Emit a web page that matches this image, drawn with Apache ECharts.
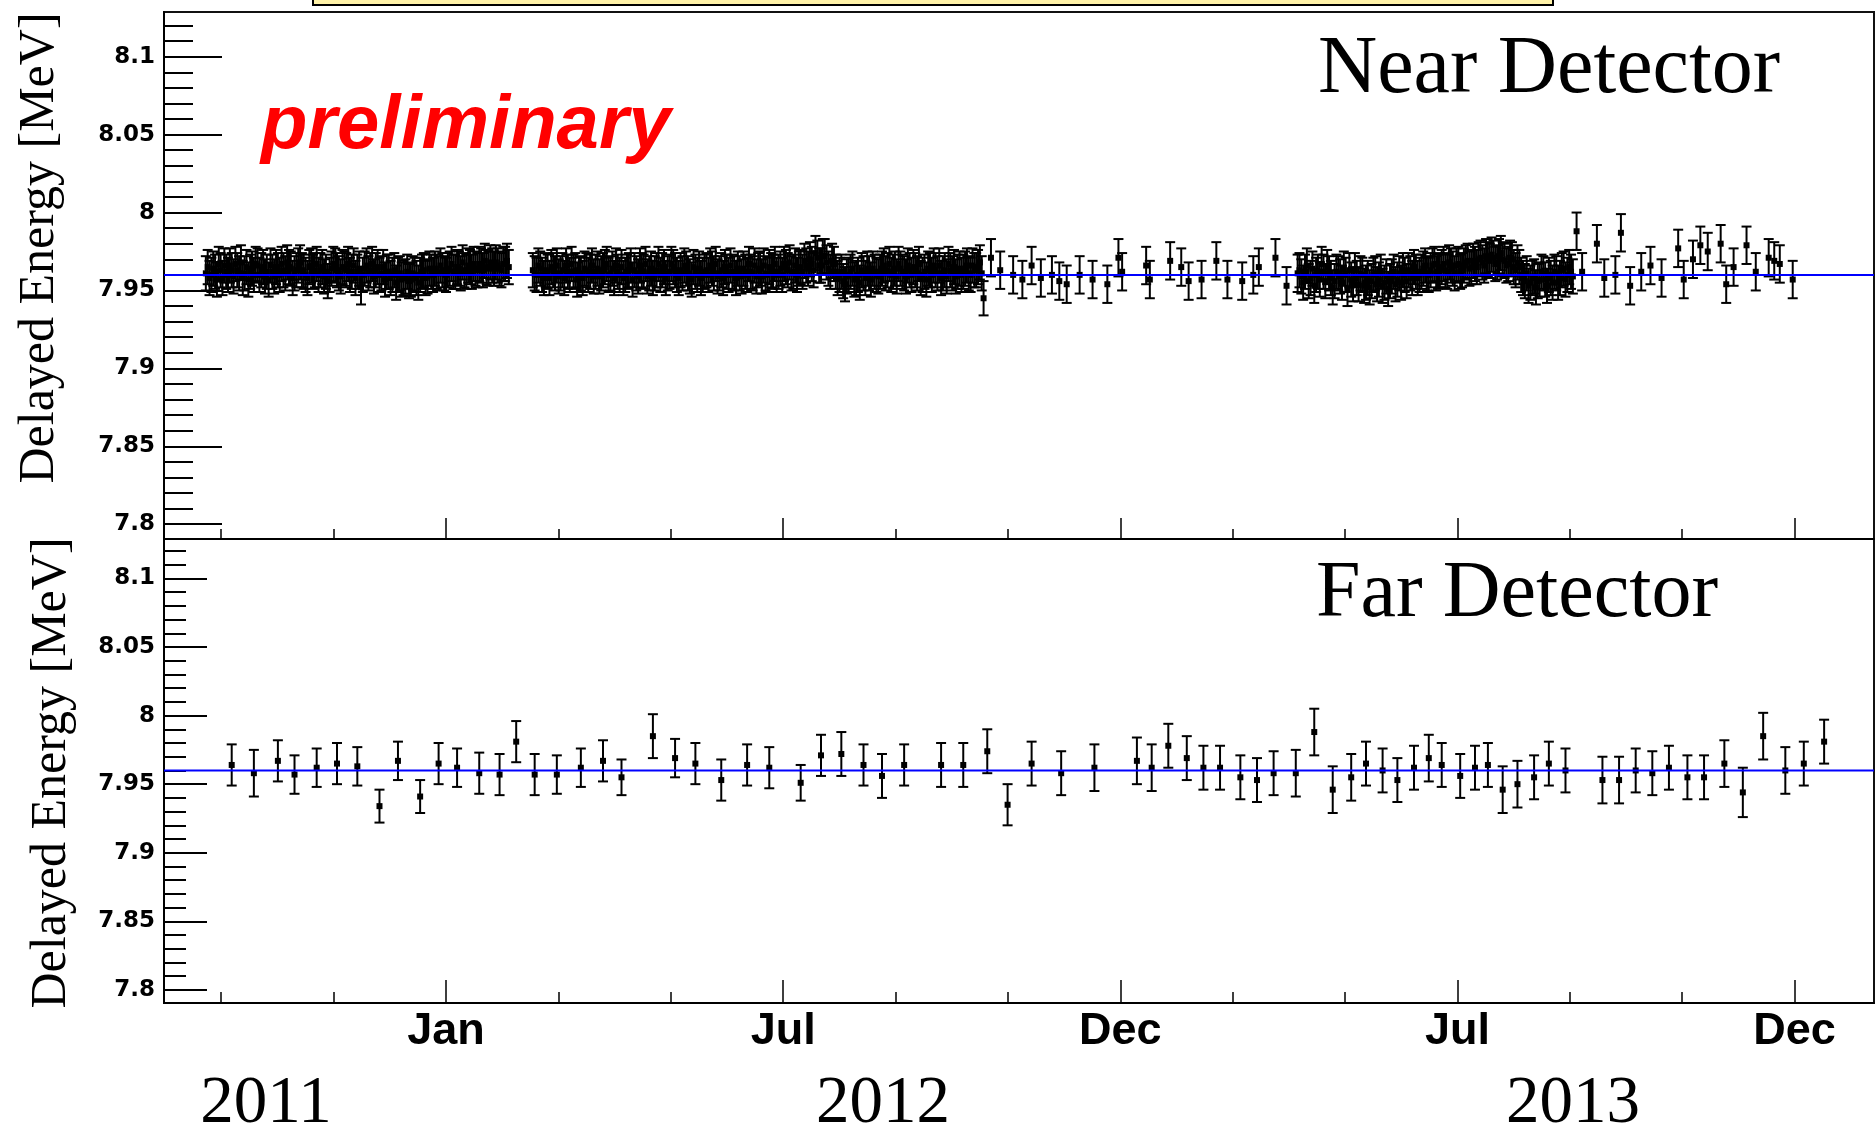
<!DOCTYPE html>
<html><head><meta charset="utf-8">
<script src="https://cdn.jsdelivr.net/npm/echarts@6/dist/echarts.min.js"></script>
<style>html,body{margin:0;padding:0;background:#fff}#c{width:1876px;height:1128px}</style>
</head><body><div id="c"></div><script>
// ---- DATA (x in days relative to 2012-01-01) ----
const nearSegA = [[-130,7.961],[-128,7.958],[-126,7.964],[-124,7.957],[-122,7.963],[-120,7.966],[-118,7.960],[-116,7.963],[-114,7.967],[-112,7.961],[-110,7.958],[-108,7.965],[-106,7.962],[-104,7.960],[-102,7.966],[-100,7.963],[-98,7.959],[-96,7.957],[-94,7.962],[-92,7.965],[-90,7.960],[-88,7.963],[-86,7.968],[-84,7.964],[-82,7.961],[-80,7.966],[-78,7.963],[-76,7.960],[-74,7.965],[-72,7.962],[-70,7.967],[-68,7.963],[-66,7.959],[-64,7.956],[-62,7.964],[-60,7.966],[-58,7.961],[-56,7.965],[-54,7.963],[-52,7.960],[-50,7.966],[-48,7.962],[-46,7.952],[-44,7.964],[-42,7.961],[-40,7.967],[-38,7.963],[-36,7.960],[-34,7.965],[-32,7.962],[-30,7.958],[-28,7.963],[-26,7.960],[-24,7.957],[-22,7.959],[-20,7.956],[-18,7.961],[-16,7.958],[-14,7.960],[-12,7.963],[-10,7.959],[-8,7.962],[-6,7.964],[-4,7.961],[-2,7.963],[0,7.960],[2,7.964],[4,7.962],[6,7.965],[8,7.961],[10,7.963],[12,7.966],[14,7.962],[16,7.964],[18,7.967],[20,7.963],[22,7.965],[24,7.968],[26,7.964],[28,7.966],[30,7.963],[32,7.967],[34,7.965]];
const nearSegA2 = [[-129,7.965],[-127,7.960],[-125,7.962],[-123,7.967],[-121,7.958],[-119,7.962],[-117,7.966],[-115,7.959],[-113,7.963],[-111,7.968],[-109,7.961],[-107,7.957],[-105,7.964],[-103,7.967],[-101,7.960],[-99,7.965],[-97,7.962],[-95,7.966],[-93,7.959],[-91,7.963],[-89,7.967],[-87,7.961],[-85,7.965],[-83,7.958],[-81,7.963],[-79,7.968],[-77,7.962],[-75,7.958],[-73,7.966],[-71,7.963],[-69,7.960],[-67,7.965],[-65,7.962],[-63,7.960],[-61,7.967],[-59,7.963],[-57,7.959],[-55,7.964],[-53,7.967],[-51,7.962],[-49,7.958],[-47,7.964],[-45,7.960],[-43,7.966],[-41,7.963],[-39,7.959],[-37,7.965],[-35,7.961],[-33,7.957],[-31,7.962],[-29,7.960],[-27,7.955],[-25,7.961],[-23,7.958],[-21,7.962],[-19,7.957],[-17,7.960],[-15,7.955],[-13,7.962],[-11,7.958],[-9,7.964],[-7,7.960],[-5,7.962],[-3,7.966],[-1,7.961],[1,7.963],[3,7.967],[5,7.962],[7,7.964],[9,7.968],[11,7.962],[13,7.965],[15,7.967],[17,7.963],[19,7.966],[21,7.969],[23,7.964],[25,7.966],[27,7.968],[29,7.964],[31,7.967],[33,7.969]];
const nearSegB = [[47,7.963],[49,7.960],[51,7.964],[53,7.958],[55,7.962],[57,7.965],[59,7.961],[61,7.959],[63,7.963],[65,7.966],[67,7.960],[69,7.962],[71,7.957],[73,7.961],[75,7.964],[77,7.960],[79,7.966],[81,7.962],[83,7.959],[85,7.963],[87,7.967],[89,7.961],[91,7.958],[93,7.962],[95,7.965],[97,7.960],[99,7.963],[101,7.957],[103,7.961],[105,7.966],[107,7.962],[109,7.959],[111,7.964],[113,7.961],[115,7.967],[117,7.963],[119,7.958],[121,7.962],[123,7.965],[125,7.960],[127,7.963],[129,7.966],[131,7.961],[133,7.957],[135,7.962],[137,7.964],[139,7.960],[141,7.963],[143,7.966],[145,7.961],[147,7.959],[149,7.963],[151,7.965],[153,7.960],[155,7.962],[157,7.958],[159,7.961],[161,7.964],[163,7.960],[165,7.962],[167,7.966],[169,7.963],[171,7.959],[173,7.961],[175,7.965],[177,7.962],[179,7.960],[181,7.964],[183,7.967],[185,7.963],[187,7.961],[189,7.966],[191,7.964],[193,7.962],[195,7.966],[197,7.970],[199,7.963],[201,7.971],[203,7.966],[205,7.972],[207,7.964],[209,7.969],[211,7.962],[213,7.960],[215,7.956],[217,7.959],[219,7.962],[221,7.957],[223,7.960],[225,7.963],[227,7.958],[229,7.961],[231,7.964],[233,7.960],[235,7.962],[237,7.966],[239,7.963],[241,7.960],[243,7.964],[245,7.967],[247,7.962],[249,7.959],[251,7.963],[253,7.965],[255,7.961],[257,7.958],[259,7.962],[261,7.964],[263,7.960],[265,7.963],[267,7.966],[269,7.961],[271,7.959],[273,7.963],[275,7.965],[277,7.962],[279,7.960],[281,7.964],[283,7.961],[285,7.966],[287,7.963],[289,7.968],[291,7.945]];
const nearSegB2 = [[48,7.961],[50,7.966],[52,7.960],[54,7.963],[56,7.958],[58,7.963],[60,7.966],[62,7.961],[64,7.958],[66,7.962],[68,7.967],[70,7.963],[72,7.960],[74,7.958],[76,7.963],[78,7.962],[80,7.959],[82,7.964],[84,7.961],[86,7.965],[88,7.960],[90,7.964],[92,7.966],[94,7.960],[96,7.958],[98,7.962],[100,7.966],[102,7.963],[104,7.959],[106,7.963],[108,7.967],[110,7.961],[112,7.958],[114,7.963],[116,7.960],[118,7.965],[120,7.961],[122,7.967],[124,7.963],[126,7.958],[128,7.961],[130,7.964],[132,7.959],[134,7.965],[136,7.960],[138,7.958],[140,7.962],[142,7.960],[144,7.964],[146,7.967],[148,7.961],[150,7.958],[152,7.962],[154,7.966],[156,7.961],[158,7.964],[160,7.959],[162,7.962],[164,7.967],[166,7.961],[168,7.959],[170,7.964],[172,7.966],[174,7.960],[176,7.963],[178,7.967],[180,7.962],[182,7.960],[184,7.965],[186,7.968],[188,7.962],[190,7.960],[192,7.965],[194,7.969],[196,7.964],[198,7.967],[200,7.974],[202,7.966],[204,7.972],[206,7.968],[208,7.962],[210,7.967],[212,7.958],[214,7.962],[216,7.954],[218,7.960],[220,7.964],[222,7.958],[224,7.955],[226,7.961],[228,7.964],[230,7.957],[232,7.962],[234,7.959],[236,7.964],[238,7.961],[240,7.967],[242,7.962],[244,7.959],[246,7.964],[248,7.961],[250,7.966],[252,7.960],[254,7.963],[256,7.967],[258,7.960],[260,7.957],[262,7.963],[264,7.966],[266,7.961],[268,7.958],[270,7.963],[272,7.967],[274,7.961],[276,7.959],[278,7.964],[280,7.962],[282,7.966],[284,7.960],[286,7.963],[288,7.965],[290,7.961]];
const nearSegC = [[295,7.971],[300,7.963],[307,7.960],[312,7.957],[317,7.966],[322,7.958],[328,7.960],[332,7.956],[336,7.954],[343,7.960],[350,7.957],[358,7.954],[364,7.971],[366,7.962],[379,7.966],[381,7.957],[392,7.969],[398,7.965],[402,7.956],[409,7.957],[417,7.969],[423,7.957],[431,7.956],[437,7.960],[440,7.965],[449,7.971],[455,7.953],[461,7.961]];
const nearSegD = [[462,7.963],[464,7.955],[466,7.966],[468,7.958],[470,7.953],[472,7.962],[474,7.967],[476,7.956],[478,7.961],[480,7.952],[482,7.962],[484,7.959],[486,7.964],[488,7.951],[490,7.957],[492,7.963],[494,7.954],[496,7.960],[498,7.955],[500,7.952],[502,7.960],[504,7.954],[506,7.962],[508,7.955],[510,7.951],[512,7.959],[514,7.954],[516,7.961],[518,7.963],[520,7.956],[522,7.961],[524,7.965],[526,7.958],[528,7.962],[530,7.966],[532,7.960],[534,7.966],[536,7.961],[538,7.963],[540,7.967],[542,7.962],[544,7.966],[546,7.961],[548,7.967],[550,7.963],[552,7.968],[554,7.964],[556,7.969],[558,7.965],[560,7.971],[562,7.966],[564,7.970],[566,7.973],[568,7.967],[570,7.972],[572,7.970],[574,7.966],[576,7.971],[578,7.965],[580,7.968],[582,7.960],[584,7.956],[586,7.953],[588,7.958],[590,7.952],[592,7.957],[594,7.961],[596,7.953],[598,7.958],[600,7.962],[602,7.955],[604,7.963],[606,7.957],[608,7.965],[610,7.959]];
const nearSegD2 = [[463,7.959],[465,7.962],[467,7.956],[469,7.964],[471,7.960],[473,7.957],[475,7.962],[477,7.965],[479,7.958],[481,7.956],[483,7.961],[485,7.955],[487,7.960],[489,7.963],[491,7.954],[493,7.958],[495,7.961],[497,7.953],[499,7.958],[501,7.956],[503,7.961],[505,7.957],[507,7.953],[509,7.959],[511,7.956],[513,7.962],[515,7.957],[517,7.955],[519,7.960],[521,7.963],[523,7.958],[525,7.962],[527,7.960],[529,7.964],[531,7.961],[533,7.963],[535,7.967],[537,7.962],[539,7.965],[541,7.963],[543,7.968],[545,7.964],[547,7.966],[549,7.962],[551,7.966],[553,7.969],[555,7.965],[557,7.967],[559,7.970],[561,7.968],[563,7.972],[565,7.969],[567,7.971],[569,7.968],[571,7.974],[573,7.969],[575,7.967],[577,7.970],[579,7.963],[581,7.965],[583,7.958],[585,7.961],[587,7.955],[589,7.959],[591,7.956],[593,7.962],[595,7.957],[597,7.960],[599,7.955],[601,7.961],[603,7.958],[605,7.964],[607,7.960],[609,7.962]];
const nearSegE = [[612,7.988],[615,7.962],[623,7.980],[627,7.958],[633,7.960],[636,7.987],[641,7.953],[647,7.962],[652,7.966],[658,7.958],[667,7.977],[670,7.957],[675,7.970],[679,7.979],[683,7.975],[690,7.980],[693,7.954],[697,7.965],[704,7.979],[709,7.962],[716,7.971],[719,7.969],[722,7.967],[729,7.957]];
const nearErrDense = 0.011;
const nearErrSparse = 0.012;

const farDays = [-116,-104,-91,-82,-70,-59,-48,-36,-26,-14,-4,6,18,29,38,48,60,73,85,95,112,124,135,149,163,175,192,203,214,226,236,248,268,280,293,304,317,333,351,374,382,391,401,410,419,430,439,448,460,470,480,490,498,507,515,524,532,539,549,557,564,572,580,589,597,606,626,635,644,653,662,672,681,692,702,713,725,735,746];
const farValues = [7.964,7.958,7.967,7.957,7.962,7.965,7.963,7.934,7.967,7.941,7.965,7.962,7.958,7.957,7.981,7.957,7.957,7.962,7.967,7.955,7.985,7.969,7.965,7.953,7.964,7.962,7.951,7.971,7.972,7.964,7.956,7.964,7.964,7.964,7.974,7.935,7.965,7.958,7.962,7.967,7.962,7.978,7.969,7.962,7.962,7.955,7.953,7.958,7.958,7.988,7.946,7.955,7.965,7.960,7.953,7.962,7.969,7.964,7.956,7.962,7.964,7.946,7.950,7.955,7.965,7.960,7.953,7.953,7.960,7.958,7.962,7.955,7.955,7.965,7.944,7.985,7.960,7.965,7.981];
const farErrors = [0.015,0.017,0.015,0.014,0.014,0.015,0.014,0.012,0.014,0.012,0.015,0.014,0.015,0.015,0.015,0.015,0.014,0.014,0.015,0.013,0.016,0.014,0.015,0.015,0.015,0.015,0.013,0.015,0.016,0.015,0.016,0.015,0.016,0.016,0.016,0.015,0.016,0.016,0.017,0.017,0.017,0.016,0.016,0.016,0.016,0.016,0.016,0.016,0.017,0.017,0.017,0.017,0.016,0.016,0.016,0.016,0.017,0.016,0.016,0.016,0.016,0.017,0.017,0.016,0.016,0.016,0.017,0.017,0.016,0.016,0.016,0.016,0.016,0.017,0.018,0.017,0.017,0.016,0.016];

const nearFit = 7.96;
const farFit = 7.96;

const xMajorTickDays = [0, 182.5, 365, 547.5, 730];
const xTickLabels = ['Jan', 'Jul', 'Dec', 'Jul', 'Dec'];
const xMinorTickDays = [-121.67, -60.83, 0, 60.83, 121.67, 182.5, 243.33, 304.17, 365, 425.83, 486.67, 547.5, 608.33, 669.17, 730];
const yMajorTicks = [7.8, 7.85, 7.9, 7.95, 8.0, 8.05, 8.1];
const yTickLabels = ['7.8', '7.85', '7.9', '7.95', '8', '8.05', '8.1'];
const yMinorTicks = [7.80,7.81,7.82,7.83,7.84,7.85,7.86,7.87,7.88,7.89,7.90,7.91,7.92,7.93,7.94,7.95,7.96,7.97,7.98,7.99,8.00,8.01,8.02,8.03,8.04,8.05,8.06,8.07,8.08,8.09,8.10,8.11,8.12];
const yearLabels = ['2011', '2012', '2013'];
const panelTitles = ['Near Detector', 'Far Detector'];
const yTitle = 'Delayed Energy [MeV]';
const watermark = 'preliminary';

// ---- helpers ----
const T0 = Date.UTC(2012, 0, 1);
const DAY = 86400000;
const ms = d => T0 + d * DAY;
const X_MIN = ms(-152.65), X_MAX = ms(773);
const Y_MIN = 7.7905, Y_MAX = 8.1287;

function buildNear() {
  const out = [];
  [[nearSegA, nearErrDense], [nearSegA2, nearErrDense], [nearSegB, nearErrDense], [nearSegB2, nearErrDense],
   [nearSegC, nearErrSparse], [nearSegD, nearErrDense], [nearSegD2, nearErrDense], [nearSegE, nearErrSparse]]
    .forEach(([seg, e]) => seg.forEach(p => out.push([ms(p[0]), p[1], e])));
  return out;
}
const nearData = buildNear();
const farData = farDays.map((d, i) => [ms(d), farValues[i], farErrors[i]]);

function renderErr(params, api) {
  const x = api.value(0), y = api.value(1), e = api.value(2);
  const p = api.coord([x, y]);
  const hi = api.coord([x, y + e]);
  const lo = api.coord([x, y - e]);
  const cw = 5;
  const st = { stroke: '#000', lineWidth: 2 };
  return { type: 'group', children: [
    { type: 'line', shape: { x1: p[0], y1: hi[1], x2: p[0], y2: lo[1] }, style: st },
    { type: 'line', shape: { x1: p[0] - cw, y1: hi[1], x2: p[0] + cw, y2: hi[1] }, style: st },
    { type: 'line', shape: { x1: p[0] - cw, y1: lo[1], x2: p[0] + cw, y2: lo[1] }, style: st },
    { type: 'rect', shape: { x: p[0] - 3, y: p[1] - 3, width: 6, height: 6 }, style: { fill: '#000' } }
  ]};
}

function xAxisPair(gridIndex, majorLen, minorLen, withLabels) {
  const base = { type: 'value', gridIndex, min: X_MIN, max: X_MAX, position: 'bottom', offset: 0, splitLine: { show: false } };
  return [
    Object.assign({}, base, {
      axisLine: { show: true, lineStyle: { color: '#000', width: 2 } },
      axisTick: { show: true, inside: true, length: majorLen, customValues: xMajorTickDays.map(ms), lineStyle: { color: '#000', width: 1.5 } },
      axisLabel: withLabels ? {
        show: true, customValues: xMajorTickDays.map(ms), margin: 6,
        fontFamily: 'Liberation Sans', fontWeight: 'bold', fontSize: 45, color: '#000',
        formatter: v => { const i = xMajorTickDays.findIndex(d => Math.abs(ms(d) - v) < 1000); return i >= 0 ? xTickLabels[i] : ''; }
      } : { show: false }
    }),
    Object.assign({}, base, {
      axisLine: { show: false },
      axisTick: { show: true, inside: true, length: minorLen, customValues: xMinorTickDays.map(ms), lineStyle: { color: '#000', width: 1.5 } },
      axisLabel: { show: false }
    })
  ];
}
function yAxisPair(gridIndex, majorLen, minorLen) {
  const base = { type: 'value', gridIndex, min: Y_MIN, max: Y_MAX, position: 'left', offset: 0, splitLine: { show: false } };
  return [
    Object.assign({}, base, {
      axisLine: { show: true, lineStyle: { color: '#000', width: 2 } },
      axisTick: { show: true, inside: true, length: majorLen, customValues: yMajorTicks, lineStyle: { color: '#000', width: 2 } },
      axisLabel: {
        show: true, customValues: yMajorTicks, margin: 9,
        fontFamily: 'DejaVu Sans', fontWeight: 'bold', fontSize: 23, color: '#000',
        formatter: v => { const i = yMajorTicks.findIndex(t => Math.abs(t - v) < 1e-6); return i >= 0 ? yTickLabels[i] : ''; }
      }
    }),
    Object.assign({}, base, {
      axisLine: { show: false },
      axisTick: { show: true, inside: true, length: minorLen, customValues: yMinorTicks, lineStyle: { color: '#000', width: 2 } },
      axisLabel: { show: false }
    })
  ];
}

const chart = echarts.init(document.getElementById('c'), null, { renderer: 'canvas' });
chart.setOption({
  animation: false,
  backgroundColor: '#fff',
  grid: [
    { left: 164, top: 12, width: 1710, height: 527, show: true, borderColor: '#111', borderWidth: 2, backgroundColor: 'transparent' },
    { left: 164, top: 539, width: 1710, height: 464, show: true, borderColor: '#111', borderWidth: 2, backgroundColor: 'transparent' }
  ],
  xAxis: [].concat(xAxisPair(0, 21, 10, false), xAxisPair(1, 23, 11, true)),
  yAxis: [].concat(yAxisPair(0, 58, 29), yAxisPair(1, 43, 22)),
  series: [
    { type: 'custom', name: 'near', xAxisIndex: 0, yAxisIndex: 0, renderItem: renderErr, data: nearData, z: 2, encode: { x: 0, y: 1 } },
    { type: 'custom', name: 'far', xAxisIndex: 2, yAxisIndex: 2, renderItem: renderErr, data: farData, z: 2, encode: { x: 0, y: 1 } },
    { type: 'line', name: 'nearFit', xAxisIndex: 0, yAxisIndex: 0, data: [[X_MIN, nearFit], [X_MAX, nearFit]], showSymbol: false, symbol: 'none', lineStyle: { color: '#0000ff', width: 2 }, z: 5 },
    { type: 'line', name: 'farFit', xAxisIndex: 2, yAxisIndex: 2, data: [[X_MIN, farFit], [X_MAX, farFit]], showSymbol: false, symbol: 'none', lineStyle: { color: '#0000ff', width: 2 }, z: 5 }
  ],
  graphic: [
    { type: 'rect', shape: { x: 313, y: -6, width: 1240, height: 11 }, style: { fill: '#fff2a8', stroke: '#000', lineWidth: 2 }, z: 10 },
    { type: 'text', x: 1318, y: 70, style: { text: panelTitles[0], fontFamily: 'Liberation Serif', fontSize: 82, fill: '#000', align: 'left', verticalAlign: 'middle' }, z: 10 },
    { type: 'text', x: 1316, y: 595, style: { text: panelTitles[1], fontFamily: 'Liberation Serif', fontSize: 80, fill: '#000', align: 'left', verticalAlign: 'middle' }, z: 10 },
    { type: 'text', x: 261, y: 127, style: { text: watermark, fontFamily: 'Liberation Sans', fontWeight: 'bold', fontStyle: 'italic', fontSize: 76, fill: '#ff0000', align: 'left', verticalAlign: 'middle' }, z: 10 },
    { type: 'text', x: 40, y: 248, rotation: Math.PI / 2, style: { text: yTitle, fontFamily: 'Liberation Serif', fontSize: 50, fill: '#000', align: 'center', verticalAlign: 'middle' }, z: 10 },
    { type: 'text', x: 52, y: 773, rotation: Math.PI / 2, style: { text: yTitle, fontFamily: 'Liberation Serif', fontSize: 50, fill: '#000', align: 'center', verticalAlign: 'middle' }, z: 10 },
    { type: 'text', x: 266, y: 1104, style: { text: yearLabels[0], fontFamily: 'Liberation Serif', fontSize: 67, fill: '#000', align: 'center', verticalAlign: 'middle' }, z: 10 },
    { type: 'text', x: 883, y: 1104, style: { text: yearLabels[1], fontFamily: 'Liberation Serif', fontSize: 67, fill: '#000', align: 'center', verticalAlign: 'middle' }, z: 10 },
    { type: 'text', x: 1573, y: 1104, style: { text: yearLabels[2], fontFamily: 'Liberation Serif', fontSize: 67, fill: '#000', align: 'center', verticalAlign: 'middle' }, z: 10 }
  ]
});
</script></body></html>
